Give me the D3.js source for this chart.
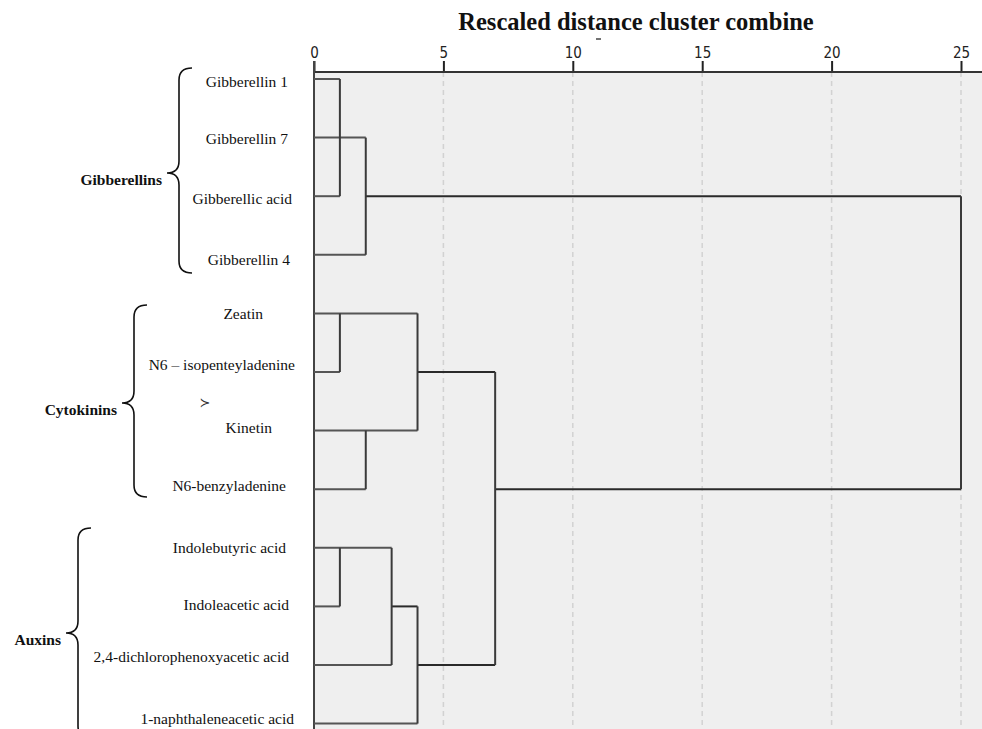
<!DOCTYPE html>
<html>
<head>
<meta charset="utf-8">
<script src="https://cdn.jsdelivr.net/npm/d3@7"></script>
<style>
  body { margin: 0; background: #fff; }
  svg { display: block; }
</style>
</head>
<body>
<div id="chart"></div>
<script>
// leaf labels, top to bottom
const leaves = [
  "Gibberellin 1", "Gibberellin 7", "Gibberellic acid", "Gibberellin 4",
  "Zeatin", "N6 – isopenteyladenine", "Kinetin", "N6-benzyladenine",
  "Indolebutyric acid", "Indoleacetic acid", "2,4-dichlorophenoxyacetic acid", "1-naphthaleneacetic acid"
];
// horizontal links: [row, from distance, to distance]
const hLinks = [
  [0, 0, 1], [1, 0, 2], [2, 0, 1], [2, 2, 25], [3, 0, 2],
  [4, 0, 4], [5, 0, 1], [5, 4, 7], [6, 0, 4], [7, 0, 2], [7, 7, 25],
  [8, 0, 3], [9, 0, 1], [9, 3, 4], [10, 0, 3], [10, 4, 7], [11, 0, 4]
];
// vertical links: [distance, from row, to row]
const vLinks = [
  [1, 0, 2], [2, 1, 3], [25, 2, 7],
  [1, 4, 5], [4, 4, 6], [2, 6, 7], [7, 5, 10],
  [1, 8, 9], [3, 8, 10], [4, 9, 11]
];
const ticks = [0, 5, 10, 15, 20, 25];
const groupNames = ["Gibberellins", "Cytokinins", "Auxins"];
const title = "Rescaled distance cluster combine";

// layout (pixels)
const W = 982, H = 729;
const axisY = 72;
const labelEnd = [288, 288, 292, 290, 263, 295, 272, 286, 286, 289, 289, 294];
const labelDy = [3, 1, 3, 5, 1, -7, -3, -3, 0, -1, -8, -5];
const braceTipX = [167, 122, 66];
const braceTop = [68, 305, 528];
const braceBottom = [273, 497, 738];
const braceTipY = [173, 403, 633];

const svg = d3.select("#chart").append("svg").attr("width", W).attr("height", H);

const x = d3.scaleLinear().domain([0, 25]).range([314, 961]);
const y = d3.scaleLinear().domain([0, leaves.length - 1]).range([79, 723.6]);

// plot background
svg.append("rect")
  .attr("x", x(0)).attr("y", axisY)
  .attr("width", W - x(0)).attr("height", H - axisY)
  .attr("fill", "#efefef");

// dashed grid
svg.selectAll("line.grid")
  .data(ticks.filter((t) => t > 0))
  .enter()
  .append("line")
  .attr("class", "grid")
  .attr("x1", (d) => x(d)).attr("x2", (d) => x(d))
  .attr("y1", axisY).attr("y2", H)
  .attr("stroke", "#d2d2d2")
  .attr("stroke-width", 1.5)
  .attr("stroke-dasharray", "5,4");

// top axis
const axis = d3.axisTop(x).tickValues(ticks).tickSize(11).tickPadding(3);
const gX = svg.append("g").attr("transform", "translate(0," + axisY + ")").call(axis);
gX.select(".domain").remove();
gX.selectAll(".tick line").attr("stroke", "#222").attr("stroke-width", 2);
gX.selectAll(".tick text")
  .attr("fill", "#222")
  .style("font-family", "'DejaVu Sans Condensed', 'DejaVu Sans', sans-serif")
  .style("font-size", "15px");
svg.append("line")
  .attr("x1", x(0)).attr("x2", W)
  .attr("y1", axisY).attr("y2", axisY)
  .attr("stroke", "#333").attr("stroke-width", 2);

// left border line at distance 0
svg.append("line")
  .attr("x1", x(0)).attr("x2", x(0))
  .attr("y1", axisY - 11).attr("y2", H)
  .attr("stroke", "#444").attr("stroke-width", 2);

// dendrogram links
const link = svg.append("g").attr("stroke", "#3a3a3a").attr("stroke-width", 2).attr("fill", "none");
link.selectAll("line.h")
  .data(hLinks)
  .enter()
  .append("line")
  .attr("class", "h")
  .attr("x1", (d) => x(d[1])).attr("x2", (d) => x(d[2]))
  .attr("y1", (d) => y(d[0])).attr("y2", (d) => y(d[0]))
  .attr("stroke", (d) => (d[1] === 0 ? "#555" : "#2a2a2a"));
link.selectAll("line.v")
  .data(vLinks)
  .enter()
  .append("line")
  .attr("class", "v")
  .attr("x1", (d) => x(d[0])).attr("x2", (d) => x(d[0]))
  .attr("y1", (d) => y(d[1])).attr("y2", (d) => y(d[2]));

// title
svg.append("text")
  .attr("x", 636).attr("y", 30)
  .attr("text-anchor", "middle")
  .style("font-family", "'Liberation Serif', 'Times New Roman', serif")
  .style("font-weight", "bold")
  .style("font-size", "24.5px")
  .attr("fill", "#111")
  .text(title);
// small tick mark under the title
svg.append("line")
  .attr("x1", 596).attr("x2", 601)
  .attr("y1", 39).attr("y2", 39)
  .attr("stroke", "#444").attr("stroke-width", 1.5);

// leaf labels
svg.selectAll("text.leaf")
  .data(leaves)
  .enter()
  .append("text")
  .attr("class", "leaf")
  .attr("x", (d, i) => labelEnd[i])
  .attr("y", (d, i) => y(i) + labelDy[i] + 5)
  .attr("text-anchor", "end")
  .style("font-family", "'Liberation Serif', 'Times New Roman', serif")
  .style("font-size", "15.5px")
  .attr("fill", "#111")
  .text((d) => d);

// braces and group names
function bracePath(tx, y0, y1, ty) {
  const sx = tx + 12, ex = tx + 25, r = 12;
  return `M${ex},${y0} Q${sx},${y0} ${sx},${y0 + r}` +
    ` L${sx},${ty - r} Q${sx},${ty} ${tx},${ty}` +
    ` Q${sx},${ty} ${sx},${ty + r} L${sx},${y1 - r} Q${sx},${y1} ${ex},${y1}`;
}
svg.selectAll("path.brace")
  .data(groupNames)
  .enter()
  .append("path")
  .attr("class", "brace")
  .attr("d", (d, i) => bracePath(braceTipX[i], braceTop[i], braceBottom[i], braceTipY[i]))
  .attr("fill", "none")
  .attr("stroke", "#111")
  .attr("stroke-width", 1.6);
svg.selectAll("text.group")
  .data(groupNames)
  .enter()
  .append("text")
  .attr("class", "group")
  .attr("x", (d, i) => braceTipX[i] - 5)
  .attr("y", (d, i) => braceTipY[i] + 12)
  .attr("text-anchor", "end")
  .style("font-family", "'Liberation Serif', 'Times New Roman', serif")
  .style("font-weight", "bold")
  .style("font-size", "15.5px")
  .attr("fill", "#111")
  .text((d) => d);

// stray mark next to Kinetin
svg.append("text")
  .attr("x", 205).attr("y", 407)
  .attr("text-anchor", "middle")
  .style("font-family", "'DejaVu Sans', sans-serif")
  .style("font-size", "13px")
  .attr("fill", "#333")
  .text("≻");
</script>
</body>
</html>
